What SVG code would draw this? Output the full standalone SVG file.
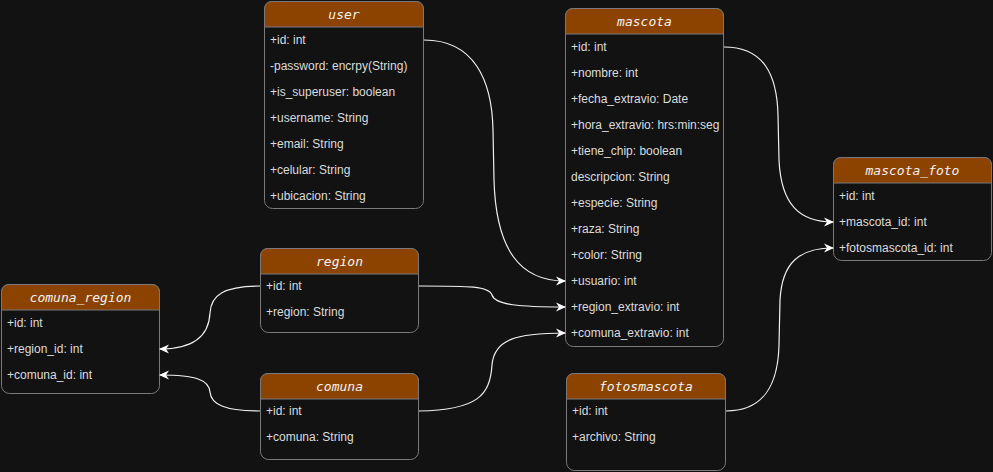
<svg xmlns="http://www.w3.org/2000/svg" width="993" height="472" viewBox="0 0 993 472">
<style>
.bg{fill:#121212}
.box{fill:#121212;stroke:#7a7a7a;stroke-width:1}
.hdr{fill:#8c4300;stroke:#7a7a7a;stroke-width:1}
.ttl{font-family:"DejaVu Sans Mono",monospace;font-style:oblique;font-size:13px;fill:#f2f2f2;text-anchor:middle}
.row{font-family:"Liberation Sans",Arial,sans-serif;font-size:12px;fill:#dcdcdc}
.edge{fill:none;stroke:#f0f0f0;stroke-width:1.2;marker-end:url(#arr)}
</style>
<defs>
<marker id="arr" viewBox="0 0 10 10" refX="9" refY="5" markerWidth="10" markerHeight="10" markerUnits="userSpaceOnUse" orient="auto">
<path d="M0,0.5 L10,5 L0,9.5 L3,5 Z" fill="#ffffff"/>
</marker>
</defs>
<rect class="bg" x="0" y="0" width="993" height="472"/>

<g id="user" transform="translate(264,1)">
<rect class="box" x="0.5" y="0.5" width="159" height="207" rx="8"/>
<path class="hdr" d="M0.5,26 L0.5,8.5 Q0.5,0.5 8.5,0.5 L151.5,0.5 Q159.5,0.5 159.5,8.5 L159.5,26 Z"/>
<text class="ttl" x="80" y="18">user</text>
<text class="row" x="6" y="43">+id: int</text>
<text class="row" x="6" y="69">-password: encrpy(String)</text>
<text class="row" x="6" y="95">+is_superuser: boolean</text>
<text class="row" x="6" y="121">+username: String</text>
<text class="row" x="6" y="147">+email: String</text>
<text class="row" x="6" y="173">+celular: String</text>
<text class="row" x="6" y="199">+ubicacion: String</text>
</g>

<g id="mascota" transform="translate(565,8)">
<rect class="box" x="0.5" y="0.5" width="158" height="338" rx="8"/>
<path class="hdr" d="M0.5,26 L0.5,8.5 Q0.5,0.5 8.5,0.5 L150.5,0.5 Q158.5,0.5 158.5,8.5 L158.5,26 Z"/>
<text class="ttl" x="79.5" y="18">mascota</text>
<text class="row" x="6" y="43">+id: int</text>
<text class="row" x="6" y="69">+nombre: int</text>
<text class="row" x="6" y="95">+fecha_extravio: Date</text>
<text class="row" x="6" y="121">+hora_extravio: hrs:min:seg</text>
<text class="row" x="6" y="147">+tiene_chip: boolean</text>
<text class="row" x="6" y="173">descripcion: String</text>
<text class="row" x="6" y="199">+especie: String</text>
<text class="row" x="6" y="225">+raza: String</text>
<text class="row" x="6" y="251">+color: String</text>
<text class="row" x="6" y="277">+usuario: int</text>
<text class="row" x="6" y="303">+region_extravio: int</text>
<text class="row" x="6" y="329">+comuna_extravio: int</text>
</g>

<g id="mascota_foto" transform="translate(833,157)">
<rect class="box" x="0.5" y="0.5" width="158" height="103" rx="8"/>
<path class="hdr" d="M0.5,26 L0.5,8.5 Q0.5,0.5 8.5,0.5 L150.5,0.5 Q158.5,0.5 158.5,8.5 L158.5,26 Z"/>
<text class="ttl" x="79.5" y="18">mascota_foto</text>
<text class="row" x="6" y="43">+id: int</text>
<text class="row" x="6" y="69">+mascota_id: int</text>
<text class="row" x="6" y="95">+fotosmascota_id: int</text>
</g>

<g id="region" transform="translate(260,248)">
<rect class="box" x="0.5" y="0.5" width="158" height="84" rx="8"/>
<path class="hdr" d="M0.5,26 L0.5,8.5 Q0.5,0.5 8.5,0.5 L150.5,0.5 Q158.5,0.5 158.5,8.5 L158.5,26 Z"/>
<text class="ttl" x="79.5" y="18">region</text>
<text class="row" x="6" y="42">+id: int</text>
<text class="row" x="6" y="68">+region: String</text>
</g>

<g id="comuna_region" transform="translate(1,284)">
<rect class="box" x="0.5" y="0.5" width="158" height="109" rx="8"/>
<path class="hdr" d="M0.5,26 L0.5,8.5 Q0.5,0.5 8.5,0.5 L150.5,0.5 Q158.5,0.5 158.5,8.5 L158.5,26 Z"/>
<text class="ttl" x="79.5" y="18">comuna_region</text>
<text class="row" x="6" y="43">+id: int</text>
<text class="row" x="6" y="69">+region_id: int</text>
<text class="row" x="6" y="95">+comuna_id: int</text>
</g>

<g id="comuna" transform="translate(260,373)">
<rect class="box" x="0.5" y="0.5" width="158" height="86" rx="8"/>
<path class="hdr" d="M0.5,26 L0.5,8.5 Q0.5,0.5 8.5,0.5 L150.5,0.5 Q158.5,0.5 158.5,8.5 L158.5,26 Z"/>
<text class="ttl" x="79.5" y="18">comuna</text>
<text class="row" x="6" y="42">+id: int</text>
<text class="row" x="6" y="68">+comuna: String</text>
</g>

<g id="fotosmascota" transform="translate(566,373)">
<rect class="box" x="0.5" y="0.5" width="159" height="97" rx="8"/>
<path class="hdr" d="M0.5,26 L0.5,8.5 Q0.5,0.5 8.5,0.5 L151.5,0.5 Q159.5,0.5 159.5,8.5 L159.5,26 Z"/>
<text class="ttl" x="80" y="18">fotosmascota</text>
<text class="row" x="6" y="42">+id: int</text>
<text class="row" x="6" y="68">+archivo: String</text>
</g>

<g id="connectors">
<path class="edge" d="M424,40 C474,40 492,80 493,130 L494,180 C496,250 520,281 565,281"/>
<path class="edge" d="M419,286 C470,286 489,286 492,295 C495,305 520,307 565,307"/>
<path class="edge" d="M419,411 C478,410 490,395 492,365 C494,340 515,333 565,333"/>
<path class="edge" d="M724,47 C764,47 777,75 778,115 L779,160 C781,205 800,222 833,222"/>
<path class="edge" d="M726,411 C764,411 778,385 779,345 L780,300 C782,262 800,248 833,248"/>
<path class="edge" d="M260,286 C224,286 211,295 210,313 C209,334 196,349 160,349"/>
<path class="edge" d="M260,411 C224,411 211,404 210,392 C209,380 196,375 160,375"/>
</g>
</svg>
